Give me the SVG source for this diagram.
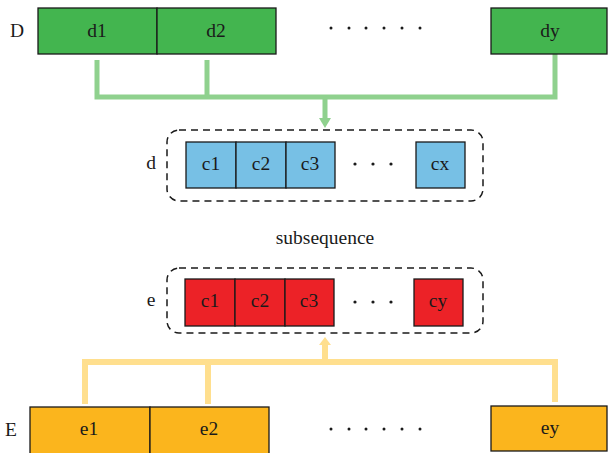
<svg xmlns="http://www.w3.org/2000/svg" width="608" height="453" viewBox="0 0 608 453">
<defs>
<style>
text{font-family:"Liberation Serif","DejaVu Serif",serif;font-size:19.5px;fill:#1a1a1a;text-anchor:middle;dominant-baseline:central}
.g{fill:#43b54f;stroke:#1a1a1a;stroke-width:1.3}
.b{fill:#77c0e5;stroke:#1a1a1a;stroke-width:1.3}
.r{fill:#ec2227;stroke:#1a1a1a;stroke-width:1.3}
.o{fill:#fbb51d;stroke:#1a1a1a;stroke-width:1.3}
.dash{fill:none;stroke:#1a1a1a;stroke-width:1.5;stroke-dasharray:7,5}
.gl{fill:none;stroke:#8fd18e;stroke-width:5}
.yl{fill:none;stroke:#ffdf8e;stroke-width:6}
.dot{fill:#1a1a1a}
</style>
</defs>
<g id="connectors">
<path class="gl" d="M97 60 V97 H555 V54 M207 60 V97 M325 97 V119"/>
<polygon points="319,118 331,118 325,128" fill="#8fd18e"/>
<path class="yl" d="M85 404 V362 H555 V402 M208 404 V362 M325 362 V344"/>
<polygon points="319,345 331,345 325,337" fill="#ffdf8e"/>
</g>
<g id="D">
<text x="17" y="30">D</text>
<rect class="g" x="38" y="8" width="119" height="46"/>
<text x="97" y="30">d1</text>
<rect class="g" x="157" y="8" width="119" height="46"/>
<text x="216" y="30">d2</text>
<g class="dot"><circle cx="331" cy="28" r="1.5"/><circle cx="349" cy="28" r="1.5"/><circle cx="366" cy="28" r="1.5"/><circle cx="384" cy="28" r="1.5"/><circle cx="402" cy="28" r="1.5"/><circle cx="420" cy="28" r="1.5"/></g>
<rect class="g" x="491" y="8" width="116" height="46"/>
<text x="550" y="30">dy</text>
</g>
<g id="d">
<text x="151" y="162">d</text>
<rect class="dash" x="167" y="130" width="316" height="71" rx="12"/>
<rect class="b" x="186" y="142" width="50" height="46"/>
<text x="211" y="163">c1</text>
<rect class="b" x="236" y="142" width="50" height="46"/>
<text x="261" y="163">c2</text>
<rect class="b" x="286" y="142" width="49" height="46"/>
<text x="310" y="163">c3</text>
<g class="dot"><circle cx="355" cy="164" r="1.6"/><circle cx="373" cy="164" r="1.6"/><circle cx="391" cy="164" r="1.6"/></g>
<rect class="b" x="416" y="142" width="49" height="46"/>
<text x="440" y="163">cx</text>
</g>
<g id="subsequence">
<text x="325" y="237">subsequence</text>
</g>
<g id="e">
<text x="151" y="299">e</text>
<rect class="dash" x="167" y="268" width="316" height="65" rx="12"/>
<rect class="r" x="185" y="279" width="50" height="47"/>
<text x="210" y="300">c1</text>
<rect class="r" x="235" y="279" width="50" height="47"/>
<text x="260" y="300">c2</text>
<rect class="r" x="285" y="279" width="49" height="47"/>
<text x="309" y="300">c3</text>
<g class="dot"><circle cx="355" cy="302" r="1.6"/><circle cx="373" cy="302" r="1.6"/><circle cx="391" cy="302" r="1.6"/></g>
<rect class="r" x="414" y="279" width="49" height="47"/>
<text x="438" y="300">cy</text>
</g>
<g id="E">
<text x="11" y="429">E</text>
<rect class="o" x="30" y="407" width="120" height="50"/>
<text x="89" y="428">e1</text>
<rect class="o" x="150" y="407" width="119" height="50"/>
<text x="209" y="428">e2</text>
<g class="dot"><circle cx="331" cy="429" r="1.5"/><circle cx="349" cy="429" r="1.5"/><circle cx="366" cy="429" r="1.5"/><circle cx="384" cy="429" r="1.5"/><circle cx="402" cy="429" r="1.5"/><circle cx="420" cy="429" r="1.5"/></g>
<rect class="o" x="491" y="406" width="116" height="45"/>
<text x="550" y="427">ey</text>
</g>
</svg>
